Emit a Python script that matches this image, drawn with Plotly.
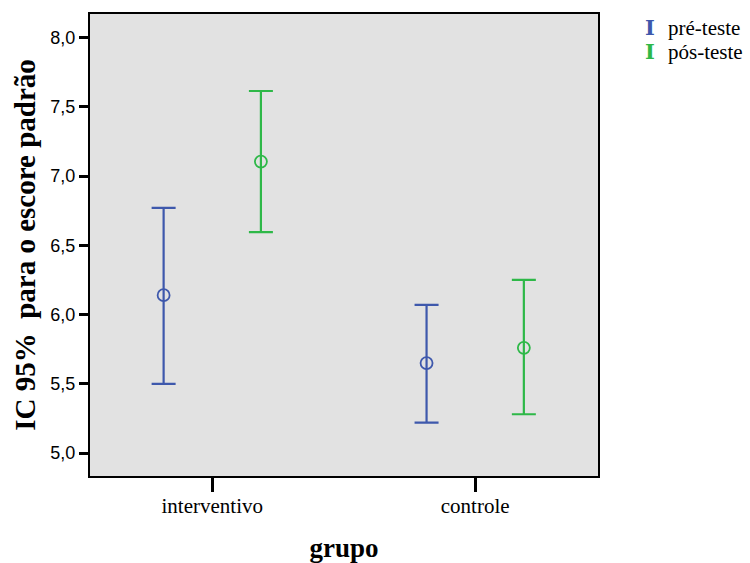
import plotly.graph_objects as go

categories = ["interventivo", "controle"]
series_names = ["pré-teste", "pós-teste"]
pre_mean = [6.14, 5.65]
pre_upper = [6.77, 6.07]
pre_lower = [5.50, 5.22]
pos_mean = [7.105, 5.76]
pos_upper = [7.615, 6.25]
pos_lower = [6.595, 5.28]
y_ticks = [5.0, 5.5, 6.0, 6.5, 7.0, 7.5, 8.0]

colors = ["#3E58AC", "#2EB848"]
offsets = [-0.185, 0.185]
SERIF = "Liberation Serif, Times New Roman, serif"

fig = go.Figure()
base_x = [i + 1 for i in range(len(categories))]
for name, mean, up, lo, col, off in zip(
    series_names, [pre_mean, pos_mean], [pre_upper, pos_upper], [pre_lower, pos_lower], colors, offsets
):
    fig.add_trace(go.Scatter(
        x=[b + off for b in base_x],
        y=mean,
        mode="markers",
        name=name,
        showlegend=False,
        marker=dict(symbol="circle-open", size=12, color=col, line=dict(width=1.8, color=col)),
        error_y=dict(
            type="data", symmetric=False,
            array=[u - m for u, m in zip(up, mean)],
            arrayminus=[m - l for m, l in zip(mean, lo)],
            color=col, thickness=2.2, width=12,
        ),
    ))

# legend built as text
legend_y = [0.970, 0.918]
for name, col, ly in zip(series_names, colors, legend_y):
    fig.add_annotation(xref="paper", yref="paper", x=1.102, y=ly, text="<b>I</b>",
                       showarrow=False, xanchor="center", yanchor="middle",
                       font=dict(family="DejaVu Serif", size=21, color=col))
    fig.add_annotation(xref="paper", yref="paper", x=1.133, y=ly, text=name,
                       showarrow=False, xanchor="left", yanchor="middle",
                       font=dict(family=SERIF, size=21, color="black"))

fig.update_layout(
    width=750, height=563,
    margin=dict(l=90, r=152, t=14, b=87),
    paper_bgcolor="white",
    plot_bgcolor="#E2E2E2",
    separators=",.",
    showlegend=False,
    xaxis=dict(
        range=[0.535, 2.467], automargin=False,
        tickmode="array", tickvals=base_x, ticktext=categories,
        showgrid=False, zeroline=False,
        showline=True, linecolor="black", linewidth=2, mirror=True,
        ticks="outside", ticklen=14, tickwidth=2.5, tickcolor="black",
        ticklabelstandoff=-4,
        tickfont=dict(family=SERIF, size=21, color="black"),
        title=dict(text="<b>grupo</b>", font=dict(family=SERIF, size=27, color="black"), standoff=22),
    ),
    yaxis=dict(
        range=[4.834, 8.171], automargin=False,
        tickmode="array", tickvals=y_ticks, tickformat=".1f",
        showgrid=False, zeroline=False,
        showline=True, linecolor="black", linewidth=2, mirror=True,
        ticks="outside", ticklen=9, tickwidth=2.5, tickcolor="black",
        tickfont=dict(family="Liberation Sans, Arial, sans-serif", size=18, color="black"),
        title=dict(text="<b>IC 95%  para o escore padrão</b>", font=dict(family=SERIF, size=29, color="black"), standoff=6),
    ),
)

fig.write_html("out.html", config={"displayModeBar": False},
               post_script="document.body.style.margin='0';")
